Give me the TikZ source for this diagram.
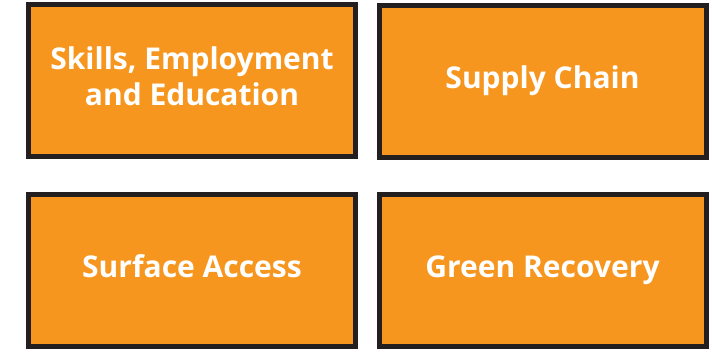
\documentclass[tikz,border=0pt]{standalone}
\usepackage{fontspec}
\setmainfont{Open Sans}
\definecolor{tileorange}{RGB}{247,150,30}
\definecolor{tileedge}{RGB}{35,31,32}
\begin{document}
\begin{tikzpicture}[x=1pt,y=-1pt,
  tile/.style={rectangle, draw=tileedge, fill=tileorange, line width=5pt,
    minimum width=327pt, minimum height=152pt, inner sep=0pt,
    align=center, text=white, text depth=7pt,
    font=\bfseries\fontsize{30}{36}\selectfont},
  oneline/.style={text height=21pt}]
\useasboundingbox (0,0) rectangle (709,349);
\node[tile] (skills) at (192,80) {Skills, Employment\\and Education};
\node[tile, oneline] (supply) at (542.5,81.5) {Supply Chain};
\node[tile, oneline] (surface) at (192,270) {Surface Access};
\node[tile, oneline] (green) at (542.5,270) {Green Recovery};
\end{tikzpicture}
\end{document}
